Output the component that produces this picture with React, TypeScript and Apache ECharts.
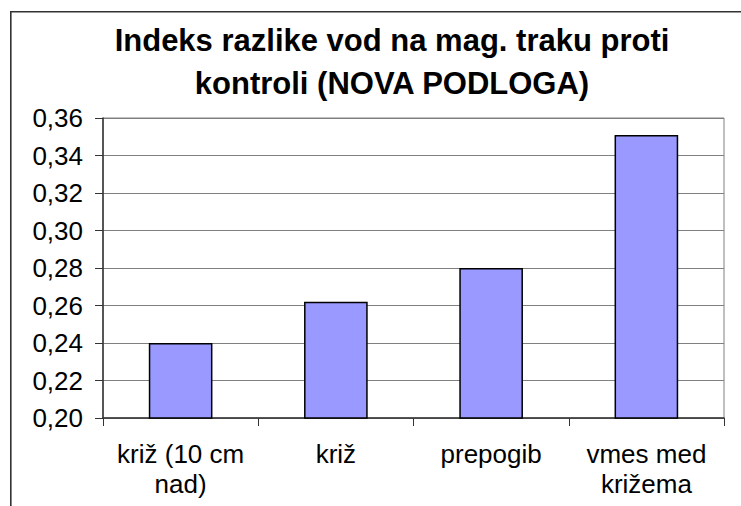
import React, { useEffect, useRef } from "react";
import * as echarts from "echarts";

const categories = ["križ (10 cm\nnad)", "križ", "prepogib", "vmes med\nkrižema"];
const values = [0.24, 0.262, 0.28, 0.351];
const titleLines = ["Indeks razlike vod na mag. traku proti", "kontroli (NOVA PODLOGA)"];
const yMin = 0.2;
const yMax = 0.36;
const yStep = 0.02;

const FONT = '"Liberation Sans", Arial, sans-serif';

export default function App() {
  const ref = useRef<HTMLDivElement>(null);
  useEffect(() => {
    if (!ref.current) return;
    const chart = echarts.init(ref.current, null, { renderer: "svg" });
    chart.setOption({
      animation: false,
      backgroundColor: "#ffffff",
      graphic: [
        {
          type: "rect",
          shape: { x: 10.8, y: 11.8, width: 1000, height: 1000 },
          style: { fill: "none", stroke: "#333333", lineWidth: 1.6 },
          silent: true,
        },
        {
          type: "text",
          x: 392,
          y: 19,
          style: {
            text: titleLines.join("\n"),
            font: `bold 31px ${FONT}`,
            fill: "#000000",
            textAlign: "center",
            textVerticalAlign: "top",
            lineHeight: 43,
          },
          silent: true,
        },
      ],
      grid: {
        left: 103,
        top: 118,
        right: 17,
        bottom: 88,
        show: true,
        borderColor: "#808080",
        borderWidth: 1,
        containLabel: false,
      },
      xAxis: {
        type: "category",
        data: categories,
        axisLine: { show: true, lineStyle: { color: "#333333", width: 1.5 } },
        axisTick: {
          show: true,
          alignWithLabel: false,
          length: 8,
          lineStyle: { color: "#333333", width: 1 },
        },
        axisLabel: {
          interval: 0,
          margin: 21,
          fontFamily: FONT,
          fontSize: 26,
          lineHeight: 30,
          color: "#000000",
        },
        splitLine: { show: false },
      },
      yAxis: {
        type: "value",
        min: yMin,
        max: yMax,
        interval: yStep,
        axisLine: { show: true, lineStyle: { color: "#333333", width: 1.5 } },
        axisTick: { show: true, length: 8, lineStyle: { color: "#333333", width: 1 } },
        axisLabel: {
          margin: 20,
          fontFamily: FONT,
          fontSize: 26,
          color: "#000000",
          formatter: (v: number) => v.toFixed(2).replace(".", ","),
        },
        splitLine: { show: true, lineStyle: { color: "#808080", width: 1 } },
      },
      series: [
        {
          type: "bar",
          data: values,
          barCategoryGap: "59%",
          itemStyle: { color: "#9999FF", borderColor: "#000000", borderWidth: 1.5 },
        },
      ],
    });
    return () => chart.dispose();
  }, []);
  return (
    <div
      ref={ref}
      style={{ position: "absolute", left: 0, top: 0, width: 741, height: 506 }}
    />
  );
}
